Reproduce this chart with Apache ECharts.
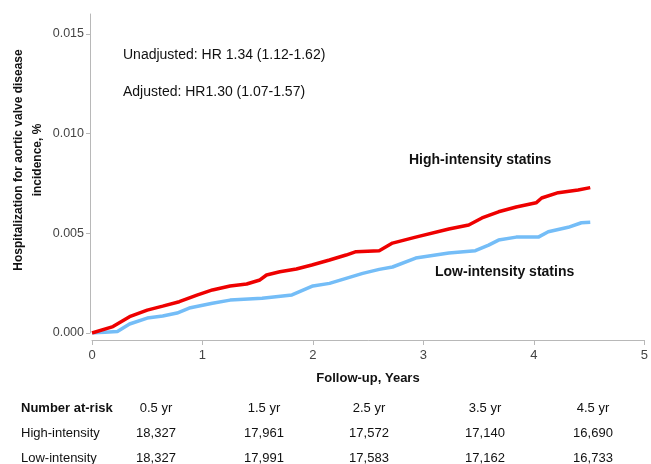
<!DOCTYPE html>
<html>
<head>
<meta charset="utf-8">
<script src="https://cdn.jsdelivr.net/npm/echarts@6/dist/echarts.min.js"></script>
<style>
  html, body { margin: 0; padding: 0; background: #fff; }
  #chart { width: 651px; height: 464px; }
</style>
</head>
<body>
<div id="chart"></div>
<script>
// cumulative incidence (years, incidence)
const highYears = [0, 0.19, 0.34, 0.50, 0.64, 0.79, 0.95, 1.09, 1.25, 1.40, 1.52, 1.58, 1.70, 1.85, 1.99, 2.15, 2.30, 2.39, 2.60, 2.72, 2.93, 3.23, 3.41, 3.53, 3.68, 3.84, 4.02, 4.07, 4.22, 4.40, 4.51]
const highValues = [0, 0.00032, 0.00082, 0.00115, 0.00135, 0.00157, 0.0019, 0.00216, 0.00236, 0.00246, 0.00266, 0.00291, 0.00307, 0.00321, 0.00341, 0.00366, 0.00391, 0.00408, 0.00413, 0.00451, 0.00481, 0.00522, 0.00542, 0.00577, 0.00608, 0.00632, 0.00653, 0.00677, 0.00704, 0.00717, 0.00729]

const lowYears = [0, 0.23, 0.34, 0.50, 0.64, 0.77, 0.88, 1.09, 1.25, 1.54, 1.81, 2.0, 2.15, 2.30, 2.45, 2.60, 2.72, 2.93, 3.23, 3.47, 3.59, 3.68, 3.84, 4.04, 4.13, 4.31, 4.43, 4.51]
const lowValues = [0, 0.00007, 0.00045, 0.00075, 0.00085, 0.001, 0.00125, 0.00149, 0.00165, 0.00174, 0.00191, 0.00236, 0.00249, 0.00274, 0.00299, 0.00319, 0.00331, 0.00376, 0.00401, 0.00413, 0.00441, 0.00466, 0.00481, 0.00481, 0.00508, 0.0053, 0.00553, 0.00556]

const xTicks = [0, 1, 2, 3, 4, 5]
const yTicks = [0, 0.005, 0.010, 0.015]

// number at risk table
const riskTimes = ['0.5 yr', '1.5 yr', '2.5 yr', '3.5 yr', '4.5 yr']
const riskHigh = ['18,327', '17,961', '17,572', '17,140', '16,690']
const riskLow = ['18,327', '17,991', '17,583', '17,162', '16,733']

const font = '"Liberation Sans", Arial, sans-serif'
const colX = [156, 264, 369, 485, 593]

const chart = echarts.init(document.getElementById('chart'))

function txt(text, x, y, size, bold, align) {
  return {
    type: 'text', x: x, y: y,
    style: { text: text, fontSize: size, fontWeight: bold ? 'bold' : 'normal', fontFamily: font, fill: '#111', align: align || 'left', verticalAlign: 'middle' }
  }
}

const tableText = []
riskTimes.forEach((t, i) => {
  tableText.push(txt(t, colX[i], 408, 13, false, 'center'))
  tableText.push(txt(riskHigh[i], colX[i], 433, 13, false, 'center'))
  tableText.push(txt(riskLow[i], colX[i], 458, 13, false, 'center'))
})

const option = {
  animation: false,
  grid: { left: 92, right: 5, top: 14, bottom: 131 },
  xAxis: {
    type: 'value', min: 0, max: 5, interval: 1, offset: 7,
    splitLine: { show: false },
    axisLine: { show: true, onZero: false, lineStyle: { color: '#b8b8b8', width: 1 } },
    axisTick: { show: true, length: 5, lineStyle: { color: '#b8b8b8' }, customValues: xTicks },
    axisLabel: { color: '#444', fontSize: 13, fontFamily: font, margin: 9, customValues: xTicks }
  },
  yAxis: {
    type: 'value', min: 0, max: 0.016, offset: 2,
    splitLine: { show: false },
    axisLine: { show: true, onZero: false, lineStyle: { color: '#b8b8b8', width: 1 } },
    axisTick: { show: true, length: 4, lineStyle: { color: '#b8b8b8' }, customValues: yTicks },
    axisLabel: { color: '#444', fontSize: 12.5, fontFamily: font, margin: 6, customValues: yTicks, formatter: v => v.toFixed(3) }
  },
  series: [
    {
      name: 'Low-intensity statins', type: 'line', showSymbol: false, z: 2,
      data: lowYears.map((x, i) => [x, lowValues[i]]),
      lineStyle: { color: '#74bdf7', width: 3.5 }
    },
    {
      name: 'High-intensity statins', type: 'line', showSymbol: false, z: 3,
      data: highYears.map((x, i) => [x, highValues[i]]),
      lineStyle: { color: '#ee0000', width: 3.5 }
    }
  ],
  graphic: [
    txt('Unadjusted: HR 1.34 (1.12-1.62)', 123, 55, 14, false),
    txt('Adjusted: HR1.30 (1.07-1.57)', 123, 92, 14, false),
    txt('High-intensity statins', 409, 160, 14, true),
    txt('Low-intensity statins', 435, 272, 14, true),
    txt('Follow-up, Years', 368, 378, 13, true, 'center'),
    {
      type: 'text', x: 28, y: 160, rotation: Math.PI / 2,
      style: { text: 'Hospitalization for aortic valve disease\nincidence, %', fontSize: 12, fontWeight: 'bold', fontFamily: font, fill: '#111', align: 'center', verticalAlign: 'middle', lineHeight: 19 }
    },
    txt('Number at-risk', 21, 408, 13, true),
    txt('High-intensity', 21, 433, 13, false),
    txt('Low-intensity', 21, 458, 13, false)
  ].concat(tableText)
}

chart.setOption(option)
</script>
</body>
</html>
